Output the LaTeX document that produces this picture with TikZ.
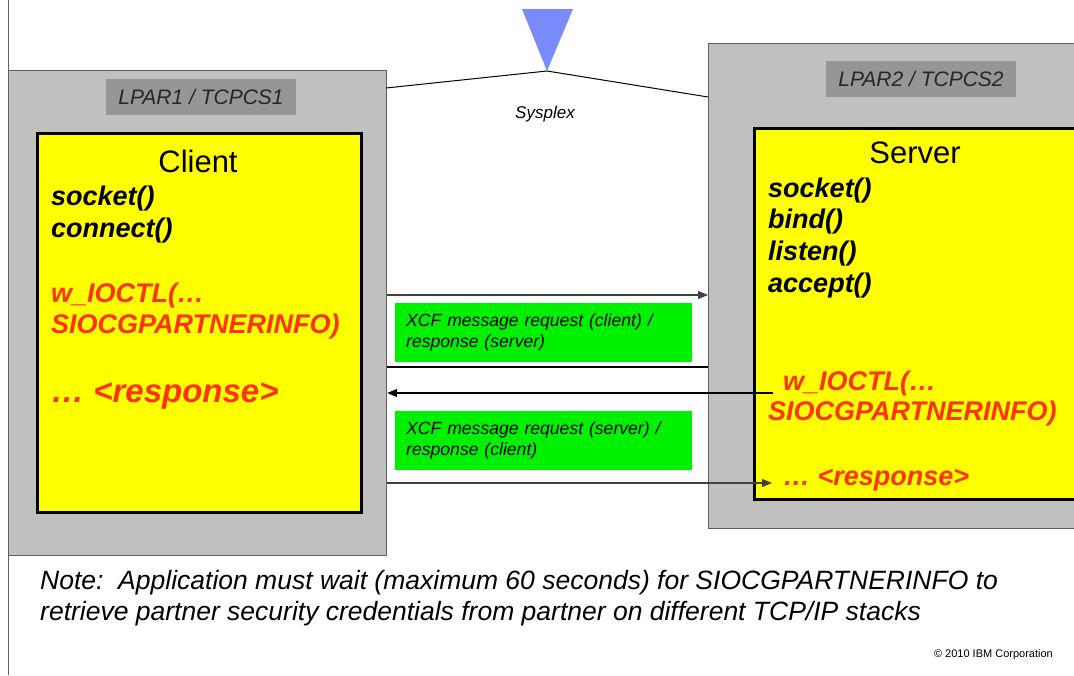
\documentclass[tikz,border=0pt]{standalone}
\usepackage{fontspec}
\setmainfont{Liberation Sans}
\definecolor{lparGray}{RGB}{192,192,192}
\definecolor{lparEdge}{RGB}{95,95,95}
\definecolor{tagGray}{RGB}{150,150,150}
\definecolor{appYellow}{RGB}{255,255,0}
\definecolor{callRed}{RGB}{255,51,0}
\definecolor{xcfGreen}{RGB}{0,240,0}
\definecolor{sysBlue}{RGB}{122,139,255}
\usetikzlibrary{arrows.meta,positioning}

\begin{document}
\begin{tikzpicture}[x=1pt, y=-1pt,
    lpar/.style={draw=lparEdge, fill=lparGray, line width=1.2pt, anchor=north west, inner sep=0pt},
    tag/.style={fill=tagGray, minimum width=190pt, minimum height=36pt, inner sep=0pt, font=\fontsize{21}{24}\selectfont\itshape, text=black!85},
    app/.style={draw=black, fill=appYellow, line width=3pt, anchor=north west, inner sep=0pt},
    call/.style={anchor=base west, inner sep=0pt, font=\fontsize{27}{30}\selectfont\bfseries\itshape},
    xcf/.style={fill=xcfGreen, anchor=north west, minimum width=297pt, minimum height=59pt, text width=275pt, align=left, inner xsep=11pt, font=\fontsize{17.6}{21}\selectfont\itshape},
    msg/.style={-{Triangle[length=10pt,width=8pt]}, line width=1.1pt, black!75}]
    \useasboundingbox (0,0) rectangle (1074,675);
    \clip (0,0) rectangle (1074,675);
    \draw[lparEdge, line width=1pt] (8,0) -- (8,675);

    % the two LPARs
    \node[lpar, minimum width=378pt, minimum height=485pt] (lpar1) at (8,70) {};
    \node[lpar, minimum width=400pt, minimum height=485pt] (lpar2) at (708,43) {};
    \node[tag] (tag1) at (201,97) {LPAR1 / TCPCS1};
    \node[tag] (tag2) at (921,79) {LPAR2 / TCPCS2};

    % sysplex link
    \fill[sysBlue] (522,9) -- (573,9) -- (547,71) -- cycle;
    \coordinate (apex) at (547,71);
    \coordinate (sysL) at (386,88);
    \coordinate (sysR) at (708,97);
    \draw[line width=1pt] (sysL) -- (apex) -- (sysR);
    \node[anchor=base, font=\fontsize{17}{20}\selectfont\itshape] (sysplex) at (545,118) {Sysplex};

    % client side
    \node[app, minimum width=324pt, minimum height=379pt] (client) at (36,132) {};
    \node[anchor=base, font=\fontsize{31}{36}\selectfont] (ctitle) at (198,172) {Client};
    \node[call] (csocket) at (51,205) {socket()};
    \node[call] (cconnect) at (51,237) {connect()};
    \node[call, text=callRed] (cioctl) at (51,302) {w\_IOCTL(…};
    \node[call, text=callRed] (cinfo) at (51,333) {SIOCGPARTNERINFO)};
    \node[call, text=callRed, font=\fontsize{33}{36}\selectfont\bfseries\itshape] (cresp) at (51,402) {… <response>};

    % server side
    \node[app, minimum width=360pt, minimum height=371pt] (server) at (753,127) {};
    \node[anchor=base, font=\fontsize{31}{36}\selectfont] (stitle) at (915,163) {Server};
    \node[call] (ssocket) at (768,197) {socket()};
    \node[call] (sbind) at (768,228) {bind()};
    \node[call] (slisten) at (768,260) {listen()};
    \node[call] (saccept) at (768,292) {accept()};
    \node[call, text=callRed] (sioctl) at (783,390) {w\_IOCTL(…};
    \node[call, text=callRed] (sinfo) at (768,420) {SIOCGPARTNERINFO)};
    \node[call, text=callRed] (sresp) at (783,485) {… <response>};

    % XCF messages
    \node[xcf] (xcf1) at (395,303) {XCF message request (client) /\\response (server)};
    \node[xcf] (xcf2) at (395,411) {XCF message request (server) /\\response (client)};
    \coordinate (m1) at (0,295);
    \coordinate (m2) at (0,367);
    \coordinate (m3) at (0,393);
    \coordinate (m4) at (0,483);
    \coordinate (s2) at (773,393);
    \coordinate (s4) at (772,483);
    \draw[msg] (lpar1.east |- m1) -- (lpar2.west |- m1);
    \draw[line width=1.1pt] (lpar1.east |- m2) -- (lpar2.west |- m2);
    \draw[msg, black] (s2) -- (lpar1.east |- m3);
    \draw[msg] (lpar1.east |- m4) -- (s4);

    % note
    \node[anchor=base west, inner sep=0pt, font=\fontsize{26.5}{30}\selectfont\itshape] (note1) at (40,589) {Note:\ \ Application must wait (maximum 60 seconds) for SIOCGPARTNERINFO to};
    \node[anchor=base west, inner sep=0pt, font=\fontsize{26.5}{30}\selectfont\itshape] (note2) at (40,620) {retrieve partner security credentials from partner on different TCP/IP stacks};
    \node[anchor=base east, inner sep=0pt, font=\fontsize{11}{13}\selectfont] (copy) at (1053,657) {© 2010 IBM Corporation};
\end{tikzpicture}
\end{document}
